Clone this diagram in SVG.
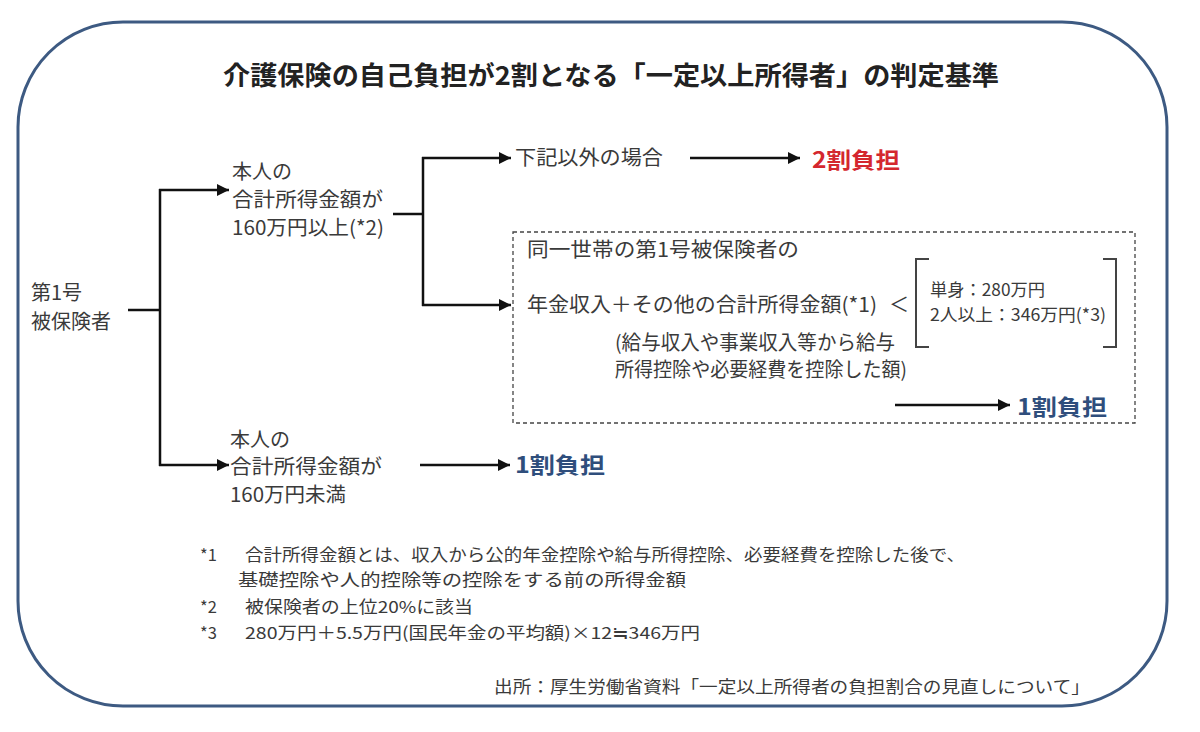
<svg xmlns="http://www.w3.org/2000/svg" width="1200" height="732" viewBox="0 0 1200 732">
<style>
.t{font-family:"Noto Sans CJK JP","Noto Sans",sans-serif;fill:#3a3a3a;}
.n{font-size:20px;}
.s{font-size:17px;}
.f{font-size:16.5px;}
.red{fill:#d4272e;font-size:22px;font-weight:bold;}
.blue{fill:#2f4e7c;font-size:22px;font-weight:bold;}
.ttl{fill:#222;font-size:26px;font-weight:bold;}
.ln{stroke:#111;stroke-width:2.5;fill:none;}
</style>
<defs>
<marker id="ah" viewBox="0 0 10 10" refX="10" refY="5" markerWidth="5" markerHeight="5" markerUnits="strokeWidth" orient="auto">
<path d="M0,0 L10,5 L0,10 z" fill="#111"/>
</marker>
</defs>
<rect width="1200" height="732" fill="#fff"/>
<rect id="frame" x="18" y="22" width="1149" height="684" rx="105" ry="105" fill="none" stroke="#3d5a82" stroke-width="3"/>
<g id="title"><text class="t ttl" x="611" y="85" text-anchor="middle" textLength="776" lengthAdjust="spacingAndGlyphs">介護保険の自己負担が2割となる「一定以上所得者」の判定基準</text></g>

<g id="connectors">
<line class="ln" x1="128" y1="310" x2="160" y2="310"/>
<line class="ln" x1="160" y1="189" x2="160" y2="466"/>
<line class="ln" x1="159" y1="190" x2="229" y2="190" marker-end="url(#ah)"/>
<line class="ln" x1="159" y1="465" x2="229" y2="465" marker-end="url(#ah)"/>
<line class="ln" x1="393" y1="214" x2="423" y2="214"/>
<line class="ln" x1="423" y1="157" x2="423" y2="306"/>
<line class="ln" x1="422" y1="158" x2="511" y2="158" marker-end="url(#ah)"/>
<line class="ln" x1="422" y1="305" x2="511" y2="305" marker-end="url(#ah)"/>
<line class="ln" x1="690" y1="158" x2="800" y2="158" marker-end="url(#ah)"/>
<line class="ln" x1="420" y1="465" x2="510" y2="465" marker-end="url(#ah)"/>
<line class="ln" x1="895" y1="405" x2="1010" y2="405" marker-end="url(#ah)"/>
</g>

<g id="node-insured">
<text class="t n" x="31" y="300">第1号</text>
<text class="t n" x="31" y="329">被保険者</text>
</g>

<g id="node-above160">
<text class="t n" x="232" y="179">本人の</text>
<text class="t n" x="232" y="207" textLength="151" lengthAdjust="spacingAndGlyphs">合計所得金額が</text>
<text class="t n" x="232" y="235" textLength="152" lengthAdjust="spacingAndGlyphs">160万円以上(*2)</text>
</g>

<g id="node-other">
<text class="t n" x="515" y="165" textLength="148" lengthAdjust="spacingAndGlyphs">下記以外の場合</text>
</g>

<g id="node-2wari">
<text class="t red" x="812" y="168" textLength="88" lengthAdjust="spacingAndGlyphs">2割負担</text>
</g>

<g id="node-household">
<rect x="513" y="232" width="622" height="191" fill="none" stroke="#444" stroke-width="1.3" stroke-dasharray="4,3"/>
<text class="t n" x="527" y="257" textLength="272" lengthAdjust="spacingAndGlyphs">同一世帯の第1号被保険者の</text>
<text class="t n" x="527" y="312" textLength="350" lengthAdjust="spacingAndGlyphs">年金収入＋その他の合計所得金額(*1)</text>
<text class="t n" x="889" y="312">＜</text>
<path d="M929,259 H916 V347 H929" fill="none" stroke="#444" stroke-width="2"/>
<path d="M1103,259 H1116 V347 H1103" fill="none" stroke="#444" stroke-width="2"/>
<text class="t s" x="930" y="296" textLength="115" lengthAdjust="spacingAndGlyphs">単身：280万円</text>
<text class="t s" x="930" y="321" textLength="176" lengthAdjust="spacingAndGlyphs">2人以上：346万円(*3)</text>
<text class="t n" x="615" y="350" textLength="280" lengthAdjust="spacingAndGlyphs">(給与収入や事業収入等から給与</text>
<text class="t n" x="615" y="377" textLength="292" lengthAdjust="spacingAndGlyphs">所得控除や必要経費を控除した額)</text>
<text class="t blue" x="1017" y="415" textLength="90" lengthAdjust="spacingAndGlyphs">1割負担</text>
</g>

<g id="node-below160">
<text class="t n" x="230" y="447">本人の</text>
<text class="t n" x="230" y="474" textLength="152" lengthAdjust="spacingAndGlyphs">合計所得金額が</text>
<text class="t n" x="230" y="502" textLength="116" lengthAdjust="spacingAndGlyphs">160万円未満</text>
</g>

<g id="node-1wari">
<text class="t blue" x="515" y="473" textLength="90" lengthAdjust="spacingAndGlyphs">1割負担</text>
</g>

<g id="footnotes">
<text class="t f" x="200" y="561">*1</text>
<text class="t f" x="245" y="561" textLength="720" lengthAdjust="spacingAndGlyphs">合計所得金額とは、収入から公的年金控除や給与所得控除、必要経費を控除した後で、</text>
<text class="t f" x="238" y="586" textLength="448" lengthAdjust="spacingAndGlyphs">基礎控除や人的控除等の控除をする前の所得金額</text>
<text class="t f" x="200" y="613">*2</text>
<text class="t f" x="245" y="613" textLength="228" lengthAdjust="spacingAndGlyphs">被保険者の上位20%に該当</text>
<text class="t f" x="200" y="639">*3</text>
<text class="t f" x="245" y="639" textLength="455" lengthAdjust="spacingAndGlyphs">280万円＋5.5万円(国民年金の平均額)×12≒346万円</text>
<text class="t f" x="1090" y="693" text-anchor="end" textLength="596" lengthAdjust="spacingAndGlyphs">出所：厚生労働省資料「一定以上所得者の負担割合の見直しについて」</text>
</g>
</svg>
